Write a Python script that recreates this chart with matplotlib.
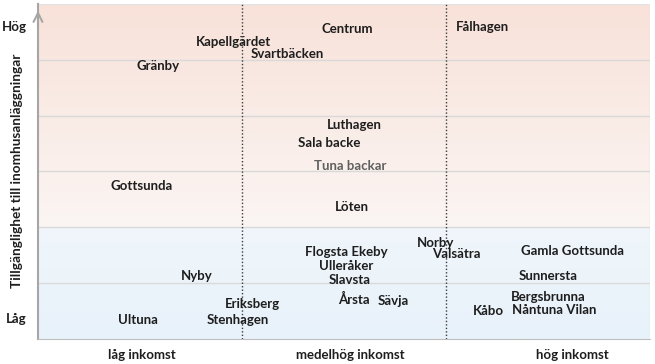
import numpy as np
import matplotlib.pyplot as plt
from matplotlib.colors import LinearSegmentedColormap

plt.rcParams['font.family'] = ['Lato', 'DejaVu Sans']

# Data: area name, income position (0-3), access position (0-6)
areas = ['Centrum', 'Fålhagen', 'Kapellgärdet', 'Svartbäcken', 'Gränby',
         'Luthagen', 'Sala backe', 'Tuna backar', 'Gottsunda', 'Löten',
         'Norby', 'Valsätra', 'Flogsta Ekeby', 'Ulleråker', 'Slavsta',
         'Gamla Gottsunda', 'Sunnersta', 'Nyby', 'Årsta', 'Sävja',
         'Bergsbrunna', 'Kåbo', 'Nåntuna Vilan', 'Eriksberg', 'Stenhagen',
         'Ultuna']
income = [1.515, 2.18, 0.96, 1.22, 0.59,
          1.55, 1.43, 1.53, 0.51, 1.54,
          1.95, 2.05, 1.51, 1.51, 1.53,
          2.62, 2.50, 0.78, 1.55, 1.74,
          2.50, 2.21, 2.53, 1.05, 0.98,
          0.49]
access = [5.56, 5.59, 5.32, 5.11, 4.89,
          3.84, 3.51, 3.10, 2.74, 2.37,
          1.72, 1.52, 1.56, 1.31, 1.06,
          1.58, 1.13, 1.13, 0.70, 0.68,
          0.75, 0.50, 0.52, 0.63, 0.34,
          0.34]
muted = ['Tuna backar']

income_labels = ['låg inkomst', 'medelhög inkomst', 'hög inkomst']
income_label_pos = [0.51, 1.53, 2.62]
access_labels = ['Låg', 'Hög']
access_label_pos = [0.37, 5.6]
ylabel = 'Tillgänglighet till inomhusanläggningar'

fig = plt.figure(figsize=(6.55, 3.64), dpi=100)
ax = fig.add_axes([0.058, 0.069, 0.934, 0.92])
ax.set_xlim(0, 3)
ax.set_ylim(0, 6)

# background gradients
pink = LinearSegmentedColormap.from_list('pink', ['#FBF5F3', '#F8E2D9'])
blue = LinearSegmentedColormap.from_list('blue', ['#E8F2FB', '#F0F6FA'])
grad = np.linspace(0, 1, 100).reshape(-1, 1)
ax.imshow(grad, cmap=pink, extent=[0, 3, 2, 6], origin='lower', aspect='auto', zorder=0)
ax.imshow(grad, cmap=blue, extent=[0, 3, 0, 2], origin='lower', aspect='auto', zorder=0)

for yv in range(1, 6):
    ax.axhline(yv, color='#D9D9D9', lw=1, zorder=1)
ax.axhline(6, color='#E3E3E3', lw=1, zorder=1)
ax.axvline(3, color='#E3E3E3', lw=1, zorder=1)
for xv in [1, 2]:
    ax.axvline(xv, color='#3A3A3A', lw=1, ls=(0, (1, 1.5)), zorder=2)

for name, xv, yv in zip(areas, income, access):
    col = '#606060' if name in muted else '#1E1E1E'
    ax.text(xv, yv, name, ha='center', va='center', fontsize=9.5,
            fontweight='bold', color=col, zorder=3)

for sp in ['top', 'right']:
    ax.spines[sp].set_visible(False)
ax.spines['bottom'].set_color('#BFBFBF')
ax.spines['left'].set_color('#A6A6A6')
ax.spines['left'].set_linewidth(1.5)
ax.annotate('', xy=(0, 5.93), xytext=(0, 5.5), xycoords='data',
            arrowprops=dict(arrowstyle='->', color='#A6A6A6', lw=1.5,
                            mutation_scale=16), annotation_clip=False, zorder=4)

ax.set_xticks(income_label_pos)
ax.set_xticklabels(income_labels, fontsize=9.5, fontweight='bold', color='#1E1E1E')
ax.set_yticks(access_label_pos)
ax.set_yticklabels(access_labels, fontsize=9.5, fontweight='bold', color='#1E1E1E')
ax.tick_params(length=0, pad=8)
ax.tick_params(axis='x', pad=7)
fig.text(17 / 655, 1 - 171 / 364, ylabel, rotation=90, ha='center', va='center',
         fontsize=9.8, fontweight='bold', color='#1E1E1E')

fig.savefig('out.png', dpi=100)
